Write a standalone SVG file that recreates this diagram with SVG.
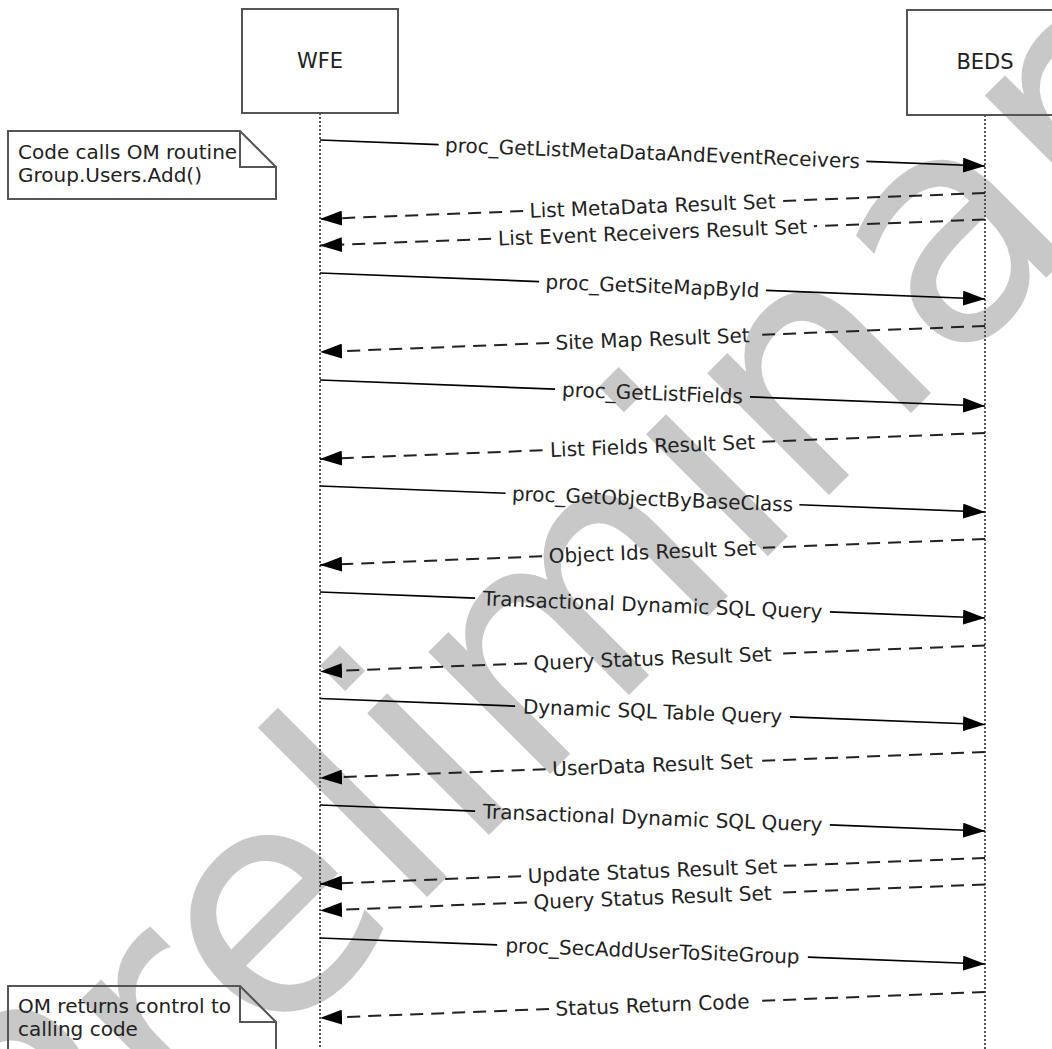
<svg xmlns="http://www.w3.org/2000/svg" width="1052" height="1049" viewBox="0 0 1052 1049">
<style>
.msg{stroke:#000;stroke-width:1.7;fill:none}
.ret{stroke:#222;stroke-width:2;stroke-dasharray:13 8;fill:none}
.lbl{font-family:"DejaVu Sans",Verdana,sans-serif;font-size:20px;fill:#222;text-anchor:middle}
.note{font-family:"DejaVu Sans",Verdana,sans-serif;font-size:20px;fill:#222}
.head{font-family:"DejaVu Sans",Verdana,sans-serif;font-size:21px;fill:#222;text-anchor:middle}
.life{stroke:#555;stroke-width:2;stroke-dasharray:2 2;fill:none}
.box{fill:none;stroke:#555;stroke-width:2}
.wm{font-family:"DejaVu Sans",Verdana,sans-serif;font-size:315px;fill:#c8c8c8}
</style>
<defs>
<marker id="ah" markerUnits="userSpaceOnUse" markerWidth="22" markerHeight="15" refX="22" refY="7.5" orient="auto" viewBox="0 0 22 15"><path d="M0,0 L22,7.5 L0,15 Z" fill="#000"/></marker>
</defs>
<rect width="1052" height="1049" fill="#fff"/>
<g id="watermark"><text class="wm" transform="translate(52,1272) rotate(-45)">Preliminary</text></g>
<g id="WFE">
<rect class="box" x="242" y="9" width="156" height="104"/>
<text class="head" x="320" y="68">WFE</text>
<line class="life" x1="320" y1="113" x2="320" y2="1049"/>
</g>
<g id="BEDS">
<rect class="box" x="907" y="10" width="156" height="105"/>
<text class="head" x="985" y="69">BEDS</text>
<line class="life" x1="985" y1="115" x2="985" y2="1049"/>
</g>
<g id="note1">
<path class="box" d="M8,131 H240 L276,167 V199 H8 Z M240,131 V167 H276"/>
<text class="note" x="18" y="159">Code calls OM routine</text>
<text class="note" x="18" y="182">Group.Users.Add()</text>
</g>
<g id="note2">
<path class="box" d="M8,1060 V986 H240 L276,1022 V1060 M240,986 V1022 H276"/>
<text class="note" x="18" y="1013">OM returns control to</text>
<text class="note" x="18" y="1036">calling code</text>
</g>
<g id="connectors">
<g transform="translate(652.5,153) rotate(2.239)"><line class="msg" x1="-332.75" y1="0" x2="-214" y2="0"/><text class="lbl" x="0" y="7">proc_GetListMetaDataAndEventReceivers</text><line class="msg" x1="214" y1="0" x2="332.75" y2="0" marker-end="url(#ah)"/></g>
<g transform="translate(652.5,206) rotate(-2.239)"><line class="ret" x1="332.75" y1="0" x2="129.5" y2="0"/><text class="lbl" x="0" y="7">List MetaData Result Set</text><line class="ret" x1="-129.5" y1="0" x2="-332.75" y2="0" marker-end="url(#ah)"/></g>
<g transform="translate(652.5,232.5) rotate(-2.239)"><line class="ret" x1="332.75" y1="0" x2="161.5" y2="0"/><text class="lbl" x="0" y="7">List Event Receivers Result Set</text><line class="ret" x1="-161.5" y1="0" x2="-332.75" y2="0" marker-end="url(#ah)"/></g>
<g transform="translate(652.5,286) rotate(2.239)"><line class="msg" x1="-332.75" y1="0" x2="-113.5" y2="0"/><text class="lbl" x="0" y="7">proc_GetSiteMapById</text><line class="msg" x1="113.5" y1="0" x2="332.75" y2="0" marker-end="url(#ah)"/></g>
<g transform="translate(652.5,339) rotate(-2.239)"><line class="ret" x1="332.75" y1="0" x2="103.5" y2="0"/><text class="lbl" x="0" y="7">Site Map Result Set</text><line class="ret" x1="-103.5" y1="0" x2="-332.75" y2="0" marker-end="url(#ah)"/></g>
<g transform="translate(652.5,393) rotate(2.239)"><line class="msg" x1="-332.75" y1="0" x2="-97.5" y2="0"/><text class="lbl" x="0" y="7">proc_GetListFields</text><line class="msg" x1="97.5" y1="0" x2="332.75" y2="0" marker-end="url(#ah)"/></g>
<g transform="translate(652.5,446) rotate(-2.239)"><line class="ret" x1="332.75" y1="0" x2="110" y2="0"/><text class="lbl" x="0" y="7">List Fields Result Set</text><line class="ret" x1="-110" y1="0" x2="-332.75" y2="0" marker-end="url(#ah)"/></g>
<g transform="translate(652.5,499) rotate(2.239)"><line class="msg" x1="-332.75" y1="0" x2="-147" y2="0"/><text class="lbl" x="0" y="7">proc_GetObjectByBaseClass</text><line class="msg" x1="147" y1="0" x2="332.75" y2="0" marker-end="url(#ah)"/></g>
<g transform="translate(652.5,552) rotate(-2.239)"><line class="ret" x1="332.75" y1="0" x2="110.5" y2="0"/><text class="lbl" x="0" y="7">Object Ids Result Set</text><line class="ret" x1="-110.5" y1="0" x2="-332.75" y2="0" marker-end="url(#ah)"/></g>
<g transform="translate(652.5,605) rotate(2.239)"><line class="msg" x1="-332.75" y1="0" x2="-177.5" y2="0"/><text class="lbl" x="0" y="7">Transactional Dynamic SQL Query</text><line class="msg" x1="177.5" y1="0" x2="332.75" y2="0" marker-end="url(#ah)"/></g>
<g transform="translate(652.5,658.5) rotate(-2.239)"><line class="ret" x1="332.75" y1="0" x2="125.5" y2="0"/><text class="lbl" x="0" y="7">Query Status Result Set</text><line class="ret" x1="-125.5" y1="0" x2="-332.75" y2="0" marker-end="url(#ah)"/></g>
<g transform="translate(652.5,711.5) rotate(2.239)"><line class="msg" x1="-332.75" y1="0" x2="-137.5" y2="0"/><text class="lbl" x="0" y="7">Dynamic SQL Table Query</text><line class="msg" x1="137.5" y1="0" x2="332.75" y2="0" marker-end="url(#ah)"/></g>
<g transform="translate(652.5,765) rotate(-2.239)"><line class="ret" x1="332.75" y1="0" x2="107" y2="0"/><text class="lbl" x="0" y="7">UserData Result Set</text><line class="ret" x1="-107" y1="0" x2="-332.75" y2="0" marker-end="url(#ah)"/></g>
<g transform="translate(652.5,818) rotate(2.239)"><line class="msg" x1="-332.75" y1="0" x2="-177.5" y2="0"/><text class="lbl" x="0" y="7">Transactional Dynamic SQL Query</text><line class="msg" x1="177.5" y1="0" x2="332.75" y2="0" marker-end="url(#ah)"/></g>
<g transform="translate(652.5,871) rotate(-2.239)"><line class="ret" x1="332.75" y1="0" x2="131.5" y2="0"/><text class="lbl" x="0" y="7">Update Status Result Set</text><line class="ret" x1="-131.5" y1="0" x2="-332.75" y2="0" marker-end="url(#ah)"/></g>
<g transform="translate(652.5,897.5) rotate(-2.239)"><line class="ret" x1="332.75" y1="0" x2="125.5" y2="0"/><text class="lbl" x="0" y="7">Query Status Result Set</text><line class="ret" x1="-125.5" y1="0" x2="-332.75" y2="0" marker-end="url(#ah)"/></g>
<g transform="translate(652.5,951) rotate(2.239)"><line class="msg" x1="-332.75" y1="0" x2="-155.5" y2="0"/><text class="lbl" x="0" y="7">proc_SecAddUserToSiteGroup</text><line class="msg" x1="155.5" y1="0" x2="332.75" y2="0" marker-end="url(#ah)"/></g>
<g transform="translate(652.5,1005) rotate(-2.239)"><line class="ret" x1="332.75" y1="0" x2="103.5" y2="0"/><text class="lbl" x="0" y="7">Status Return Code</text><line class="ret" x1="-103.5" y1="0" x2="-332.75" y2="0" marker-end="url(#ah)"/></g>
</g>
</svg>
